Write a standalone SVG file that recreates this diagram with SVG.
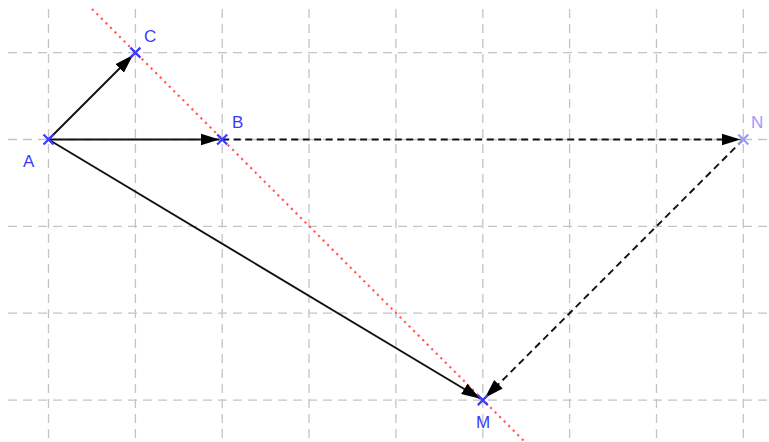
<svg xmlns="http://www.w3.org/2000/svg" width="769" height="442" viewBox="0 0 769 442">
<style>
.grid line{stroke:#c4c4c4;stroke-width:1.3;stroke-dasharray:9,6;fill:none}
.vec{stroke:#111;stroke-width:1.9;fill:none}
.dash{stroke-dasharray:7,4.5}
.red{stroke:#ff5a5a;stroke-width:2.2;stroke-dasharray:2.2,4.2;fill:none}
.pt path{stroke:#3a3aff;stroke-width:2.2;fill:none}
.pt text{fill:#3a3aff;font-family:"Liberation Sans",Arial,sans-serif;font-size:17px}
.light path{stroke:#9a9aff}
.light text{fill:#9a9aff}
</style>
<defs>
<marker id="ah" markerUnits="userSpaceOnUse" markerWidth="20" markerHeight="13" refX="19" refY="6.5" orient="auto" viewBox="0 0 20 13">
<path d="M0,0.5 L19,6.5 L0,12.5 z" fill="#000"/>
</marker>
</defs>
<rect width="769" height="442" fill="#fff"/>
<g class="grid" id="grid">
<line x1="48.5" y1="9" x2="48.5" y2="442"/>
<line x1="135.4" y1="9" x2="135.4" y2="442"/>
<line x1="222.2" y1="9" x2="222.2" y2="442"/>
<line x1="309" y1="9" x2="309" y2="442"/>
<line x1="395.9" y1="9" x2="395.9" y2="442"/>
<line x1="482.8" y1="9" x2="482.8" y2="442"/>
<line x1="569.6" y1="9" x2="569.6" y2="442"/>
<line x1="656.5" y1="9" x2="656.5" y2="442"/>
<line x1="743.3" y1="9" x2="743.3" y2="442"/>
<line x1="8" y1="52.6" x2="769" y2="52.6"/>
<line x1="8" y1="139.5" x2="769" y2="139.5"/>
<line x1="8" y1="226.4" x2="769" y2="226.4"/>
<line x1="8" y1="313.2" x2="769" y2="313.2"/>
<line x1="8" y1="400.1" x2="769" y2="400.1"/>
</g>
<line id="droite" class="red" x1="92" y1="9" x2="525" y2="442"/>
<g id="connectors">
<line class="vec" x1="48.5" y1="139.5" x2="133" y2="55" marker-end="url(#ah)"/>
<line class="vec" x1="48.5" y1="139.5" x2="219.5" y2="139.5" marker-end="url(#ah)"/>
<line class="vec" x1="48.5" y1="139.5" x2="480.5" y2="398.7" marker-end="url(#ah)"/>
<line class="vec dash" x1="222.2" y1="139.5" x2="740.5" y2="139.5" marker-end="url(#ah)"/>
<line class="vec dash" x1="743.3" y1="139.5" x2="485" y2="397.8" marker-end="url(#ah)"/>
</g>
<g id="A" class="pt"><path d="M43.5,134.5 L53.5,144.5 M53.5,134.5 L43.5,144.5"/><text x="23" y="167">A</text></g>
<g id="B" class="pt"><path d="M217.2,134.5 L227.2,144.5 M227.2,134.5 L217.2,144.5"/><text x="232" y="128">B</text></g>
<g id="C" class="pt"><path d="M130.4,47.6 L140.4,57.6 M140.4,47.6 L130.4,57.6"/><text x="144" y="42">C</text></g>
<g id="M" class="pt"><path d="M477.8,395.1 L487.8,405.1 M487.8,395.1 L477.8,405.1"/><text x="476" y="428">M</text></g>
<g id="N" class="pt light"><path d="M738.3,134.5 L748.3,144.5 M748.3,134.5 L738.3,144.5"/><text x="751" y="128">N</text></g>
</svg>
